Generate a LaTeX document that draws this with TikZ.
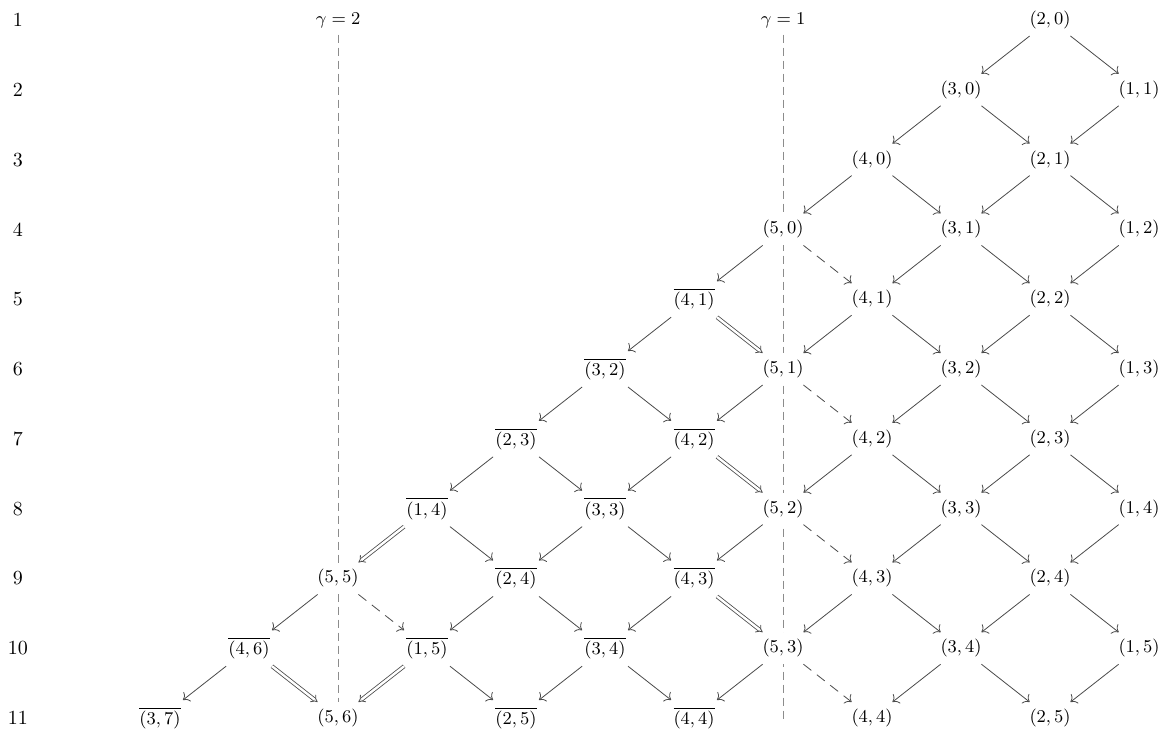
\documentclass[tikz,border=0pt]{standalone}
\usetikzlibrary{arrows.meta, backgrounds}
\definecolor{cdark}{HTML}{4A4A4A}
\definecolor{cguide}{HTML}{8C8C8C}
\tikzset{
  pt/.style={font=\small, fill=white, inner sep=3.3pt},
  rowlbl/.style={font=\normalsize},
  arrow/.style={-{To[scale=1.15]}, draw=cdark, line width=0.4pt},
  dasharrow/.style={arrow, dash pattern=on 5pt off 3.5pt},
  dbl/.style={-{Implies}, draw=cdark, line width=0.4pt, double, double distance=1.2pt},
  guide/.style={draw=cguide, line width=0.5pt, dash pattern=on 4pt off 2.5pt},
}

\begin{document}
\begin{tikzpicture}[x=1.564cm, y=-1.2266cm]
  \useasboundingbox (-1.798, 0.7135) rectangle (11.224, 11.2);
  % ---------- row numbers ----------
  \foreach \r in {1,...,11}
    \node[rowlbl] (r\r) at (-1.596, \r) {\r};
  % ---------- plain pairs ----------
  \foreach \i/\j in {2/0, 3/0, 1/1, 4/0, 2/1, 5/0, 3/1, 1/2, 4/1, 2/2, 5/1, 3/2, 1/3,
                     4/2, 2/3, 5/2, 3/3, 1/4, 4/3, 2/4, 5/3, 3/4, 1/5, 4/4, 2/5}
    \node[pt] (p\i\j) at ({12-\i}, {\i+2*\j-1}) {$(\i,\j)$};
  \node[pt] (p55) at (2, 9) {$(5,5)$};
  \node[pt] (p56) at (2, 11) {$(5,6)$};
  % ---------- barred pairs ----------
  \foreach \i/\j in {4/1, 3/2, 2/3, 1/4, 4/2, 3/3, 2/4, 1/5, 4/3, 3/4, 2/5, 4/4}
    \node[pt] (o\i\j) at ({\i+2}, {\i+2*\j-1}) {$\overline{(\i,\j)}$};
  \node[pt] (o46) at (1, 10) {$\overline{(4,6)}$};
  \node[pt] (o37) at (0, 11) {$\overline{(3,7)}$};
  % ---------- gamma lines ----------
  \node[pt] (g2) at (2, 1) {$\gamma=2$};
  \node[pt] (g1) at (7, 1) {$\gamma=1$};
  \coordinate (b1) at (7, 11.03);
  \begin{scope}[on background layer]
    \draw[guide] (g2) -- (p56);
    \draw[guide] (g1) -- (b1);
  \end{scope}
  % ---------- arrows ----------
  \foreach \a/\b in {p20/p30, p20/p11, p30/p40, p30/p21, p11/p21, p40/p50, p40/p31,
                     p21/p31, p21/p12, p31/p41, p31/p22, p12/p22, p41/p51, p41/p32,
                     p22/p32, p22/p13, p32/p42, p32/p23, p13/p23, p42/p52, p42/p33,
                     p23/p33, p23/p14, p33/p43, p33/p24, p14/p24, p43/p53, p43/p34,
                     p24/p34, p24/p15, p34/p44, p34/p25, p15/p25,
                     p50/o41, p51/o42, p52/o43, p53/o44,
                     o41/o32, o32/o23, o32/o42, o23/o14, o23/o33, o42/o33, o14/o24,
                     o33/o24, o33/o43, o24/o15, o24/o34, o43/o34, o15/o25, o34/o25,
                     o34/o44, p55/o46, o46/o37}
    \draw[arrow] (\a) -- (\b);
  \foreach \a/\b in {p50/p41, p51/p42, p52/p43, p53/p44, p55/o15}
    \draw[dasharrow] (\a) -- (\b);
  \foreach \a/\b in {o41/p51, o42/p52, o43/p53, o14/p55, o15/p56, o46/p56}
    \draw[dbl] (\a) -- (\b);
\end{tikzpicture}
\end{document}
